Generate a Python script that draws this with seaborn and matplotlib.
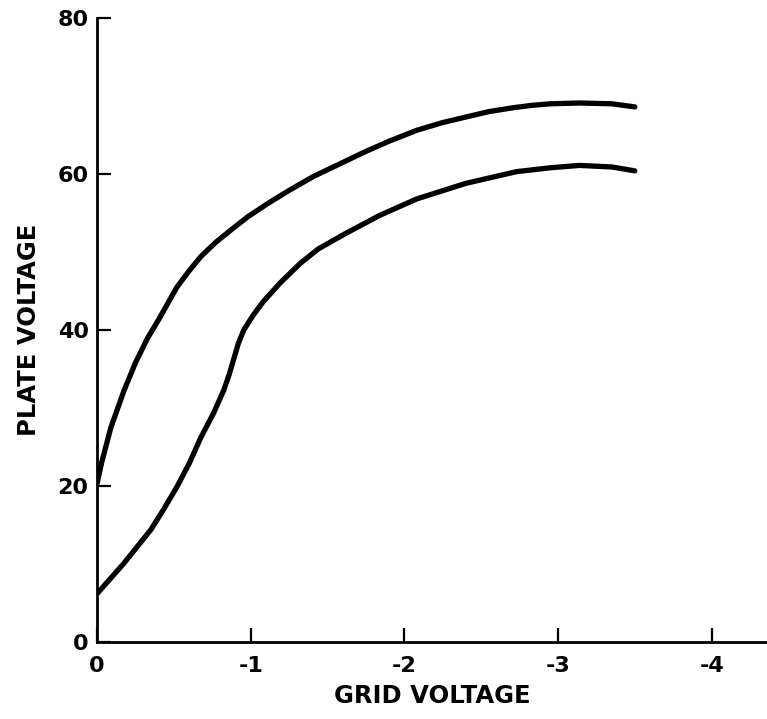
import numpy as np
import pandas as pd
import matplotlib
matplotlib.use("Agg")
import matplotlib.pyplot as plt
import seaborn as sns

# values
grid_upper = [0.0, -0.03, -0.09, -0.175, -0.25, -0.33, -0.40, -0.52, -0.60,
              -0.675, -0.77, -0.87, -0.98, -1.11, -1.25, -1.41, -1.58, -1.75,
              -1.9, -2.08, -2.25, -2.4, -2.55, -2.71, -2.83, -2.95, -3.14,
              -3.35, -3.5]
plate_upper = [20.3, 23.0, 27.5, 32.2, 35.8, 39.0, 41.3, 45.5, 47.6,
               49.4, 51.2, 52.8, 54.5, 56.2, 57.9, 59.7, 61.3, 62.9,
               64.2, 65.6, 66.6, 67.3, 68.0, 68.5, 68.8, 69.0, 69.1,
               69.0, 68.6]

grid_lower = [0.0, -0.09, -0.175, -0.35, -0.43, -0.52, -0.60, -0.675, -0.76,
              -0.825, -0.86, -0.89, -0.92, -0.955, -0.99, -1.02, -1.08, -1.19,
              -1.32, -1.44, -1.62, -1.84, -2.08, -2.4, -2.73, -2.95, -3.14,
              -3.35, -3.5]
plate_lower = [6.2, 8.2, 10.1, 14.4, 16.9, 19.9, 22.9, 26.2, 29.4,
               32.3, 34.3, 36.3, 38.3, 40.0, 41.1, 42.0, 43.6, 46.0,
               48.5, 50.4, 52.4, 54.7, 56.8, 58.8, 60.3, 60.8, 61.1,
               60.9, 60.4]

x_ticks = [0, -1, -2, -3, -4]
x_tick_labels = ["0", "-1", "-2", "-3", "-4"]
y_ticks = [0, 20, 40, 60, 80]

curves = pd.concat([
    pd.DataFrame({"grid": grid_upper, "plate": plate_upper, "curve": "upper"}),
    pd.DataFrame({"grid": grid_lower, "plate": plate_lower, "curve": "lower"}),
])

sns.set_theme(style="ticks")
plt.rcParams["font.family"] = ["DejaVu Sans"]

fig = plt.figure(figsize=(7.67, 7.19), dpi=100)
ax = fig.add_axes([0.1265, 0.107, 0.8735, 0.868])

sns.lineplot(data=curves, x="grid", y="plate", units="curve", estimator=None,
             sort=False, color="black", linewidth=3.8, ax=ax)
for line in ax.lines:
    line.set_solid_capstyle("round")
    line.set_solid_joinstyle("round")

ax.set_xlim(0, -4.36)
ax.set_ylim(0, 80)
ax.set_xticks(x_ticks)
ax.set_xticklabels(x_tick_labels)
ax.set_yticks(y_ticks)

for side in ["top", "right"]:
    ax.spines[side].set_visible(False)
for side in ["left", "bottom"]:
    ax.spines[side].set_linewidth(2.0)
    ax.spines[side].set_color("black")

ax.tick_params(direction="in", length=10, width=1.6, colors="black",
               labelsize=16)
ax.tick_params(axis="x", pad=10)
ax.tick_params(axis="y", pad=6)
for lab in ax.get_xticklabels() + ax.get_yticklabels():
    lab.set_fontweight("bold")

ax.set_xlabel("GRID VOLTAGE", fontsize=17.5, fontweight="bold",
              color="black", labelpad=6)
ax.set_ylabel("PLATE VOLTAGE", fontsize=17.5, fontweight="bold",
              color="black", labelpad=12)

fig.savefig("out.png", dpi=100, facecolor="white")
